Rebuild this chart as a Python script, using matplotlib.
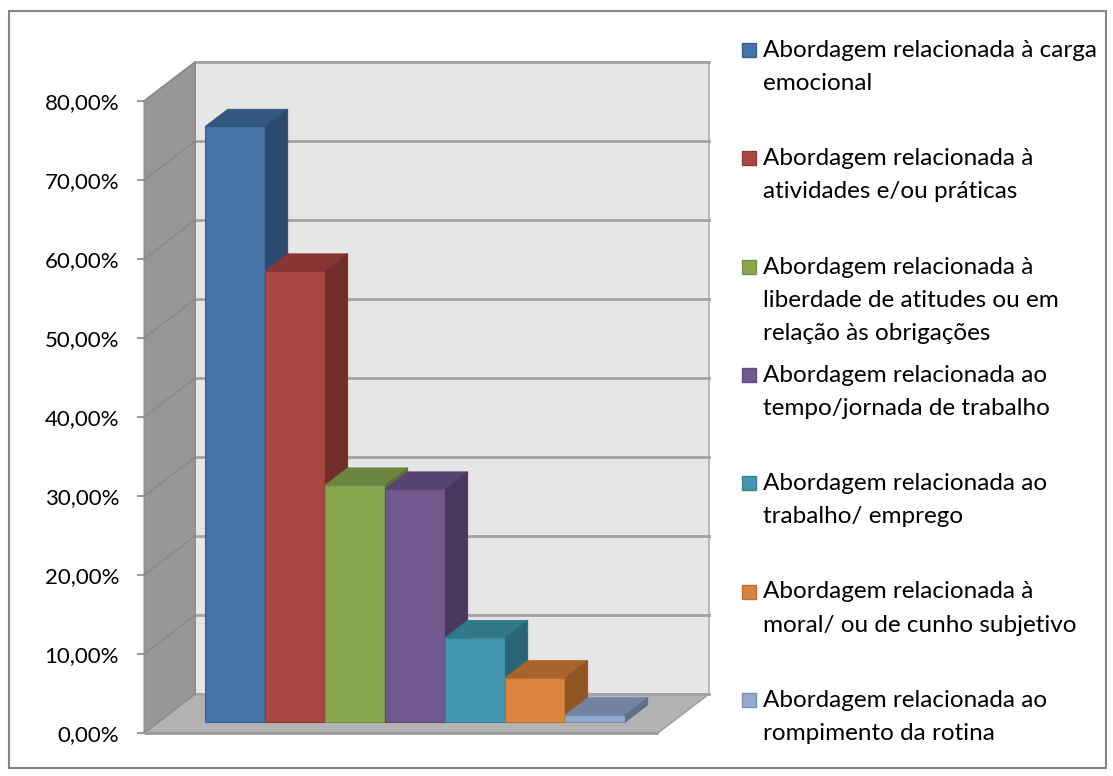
import matplotlib
matplotlib.use("Agg")
import matplotlib.pyplot as plt
from matplotlib.patches import Polygon, Rectangle
import numpy as np

# ---------------- data ----------------
categories = [
    "Abordagem relacionada à carga\nemocional",
    "Abordagem relacionada à\natividades e/ou práticas",
    "Abordagem relacionada à\nliberdade de atitudes ou em\nrelação às obrigações",
    "Abordagem relacionada ao\ntempo/jornada de trabalho",
    "Abordagem relacionada ao\ntrabalho/ emprego",
    "Abordagem relacionada à\nmoral/ ou de cunho subjetivo",
    "Abordagem relacionada ao\nrompimento da rotina",
]
values = [75.4, 57.1, 30.0, 29.5, 10.7, 5.6, 0.9]
y_ticks = [0, 10, 20, 30, 40, 50, 60, 70, 80]
y_tick_labels = ["0,00%", "10,00%", "20,00%", "30,00%", "40,00%",
                 "50,00%", "60,00%", "70,00%", "80,00%"]

front_colors = ["#4572a7", "#aa4643", "#89a54e", "#71588f", "#4198af", "#db843d", "#93a9cf"]
top_colors = ["#33587f", "#883634", "#6b8540", "#574473", "#31788b", "#a8642b", "#7282a0"]
side_colors = ["#2b4a70", "#722d2b", "#5a7035", "#48375f", "#2a6575", "#8f5524", "#5f6e8a"]
edge_colors = ["#3a6190", "#913b39", "#769042", "#604b7b", "#378296", "#bb7034", "#7e91b2"]

# ---------------- geometry ----------------
W, H = 1113, 776
PX_CAT, PX_PCT = 60.0, 7.9
X0_PX, Y0_PX = 221.0, 733.0          # pixel position of (x=0, 0%) on the front plane
D = np.array([51 / PX_CAT, 39 / PX_PCT])   # full depth vector in data units
T_FRONT, T_BACK = 0.28, 0.72
MARGIN = 0.78
YMAX = 80

fig = plt.figure(figsize=(W / 100, H / 100), dpi=100)
fig.patch.set_facecolor("white")
ax = fig.add_axes([0, 0, 1, 1])
ax.set_xlim(-X0_PX / PX_CAT, (W - X0_PX) / PX_CAT)
ax.set_ylim(-(H - Y0_PX) / PX_PCT, Y0_PX / PX_PCT)
ax.set_facecolor("none")

n = len(values)
x_fl = -0.5 - MARGIN
x_fr = n - 0.5 + MARGIN


def P(x, v, t):
    return (x + D[0] * t, v + D[1] * t)


# walls
floor = Polygon([P(x_fl, 0, 0), P(x_fr, 0, 0), P(x_fr, 0, 1), P(x_fl, 0, 1)],
                closed=True, facecolor="#b3b3b3", edgecolor="#a0a0a0", lw=1.2, zorder=1)
back = Polygon([P(x_fl, 0, 1), P(x_fr, 0, 1), P(x_fr, YMAX, 1), P(x_fl, YMAX, 1)],
               closed=True, facecolor="#e6e6e6", edgecolor="#b0b0b0", lw=1.2, zorder=1)
side = Polygon([P(x_fl, 0, 0), P(x_fl, YMAX, 0), P(x_fl, YMAX, 1), P(x_fl, 0, 1)],
               closed=True, facecolor="#979797", edgecolor="#8c8c8c", lw=1.0, zorder=2)
for p in (back, floor, side):
    ax.add_patch(p)
ax.plot([P(x_fl, 0, 0)[0], P(x_fr, 0, 0)[0]], [P(x_fl, 0, 0)[1], P(x_fr, 0, 0)[1]],
        color="#9a9a9a", lw=2.0, zorder=2, solid_capstyle="butt")

# gridlines
for v in y_ticks:
    a, b = P(x_fl, v, 1), P(x_fr, v, 1)
    ax.plot([a[0], b[0]], [a[1], b[1]], color="#a3a3a3", lw=2.0, zorder=1.5)
    if 0 < v:
        a, b = P(x_fl, v, 0), P(x_fl, v, 1)
        ax.plot([a[0], b[0]], [a[1], b[1]], color="#8a8a8a", lw=1.2, zorder=2.5)

# bars
xs = np.arange(n)
off = D * T_FRONT
dd = D * (T_BACK - T_FRONT)
bars = ax.bar(xs + off[0], values, width=1.0, bottom=off[1], color=front_colors,
              edgecolor=edge_colors, linewidth=0.8)
for i, (b, v) in enumerate(zip(bars, values)):
    z = 10 + 3 * i
    b.set_zorder(z)
    x0 = xs[i] - 0.5 + off[0]
    x1 = xs[i] + 0.5 + off[0]
    y0 = off[1]
    y1 = off[1] + v
    top = Polygon([(x0, y1), (x1, y1), (x1 + dd[0], y1 + dd[1]), (x0 + dd[0], y1 + dd[1])],
                  closed=True, facecolor=top_colors[i], edgecolor=top_colors[i], lw=0.6, zorder=z + 1)
    sd = Polygon([(x1, y0), (x1, y1), (x1 + dd[0], y1 + dd[1]), (x1 + dd[0], y0 + dd[1])],
                 closed=True, facecolor=side_colors[i], edgecolor=side_colors[i], lw=0.6, zorder=z + 1)
    ax.add_patch(top)
    ax.add_patch(sd)

# axis
for s in ("top", "right", "bottom"):
    ax.spines[s].set_visible(False)
ax.spines["left"].set_position(("data", x_fl))
ax.spines["left"].set_color("none")
ax.xaxis.set_visible(False)
ax.set_yticks(y_ticks)
ax.set_yticklabels(y_tick_labels)
ax.tick_params(axis="y", direction="out", length=5, width=1.2, color="#868686",
               pad=13, labelsize=16, labelcolor="#000000")
for lab in ax.get_yticklabels():
    lab.set_fontfamily("Lato")

# legend (manual, Excel-like even spacing)
LINE = 33.0
for i, (lab, c) in enumerate(zip(categories, front_colors)):
    base = 57 + 108.3 * i
    fig.patches.append(Rectangle((742 / W, 1 - base / H), 14 / W, 14 / H,
                                 transform=fig.transFigure, facecolor=c,
                                 edgecolor=edge_colors[i], lw=1.0))
    for j, line in enumerate(lab.split("\n")):
        fig.text(763 / W, 1 - (base + LINE * j) / H, line, fontsize=17.5, family="Lato",
                 va="baseline", ha="left", color="#000000")

# chart border
fig.patches.append(Rectangle((9 / W, 1 - 768 / H), (1106 - 9) / W, (768 - 11) / H,
                             transform=fig.transFigure, facecolor="none",
                             edgecolor="#868686", lw=1.5))

fig.savefig("out.png", dpi=100)
